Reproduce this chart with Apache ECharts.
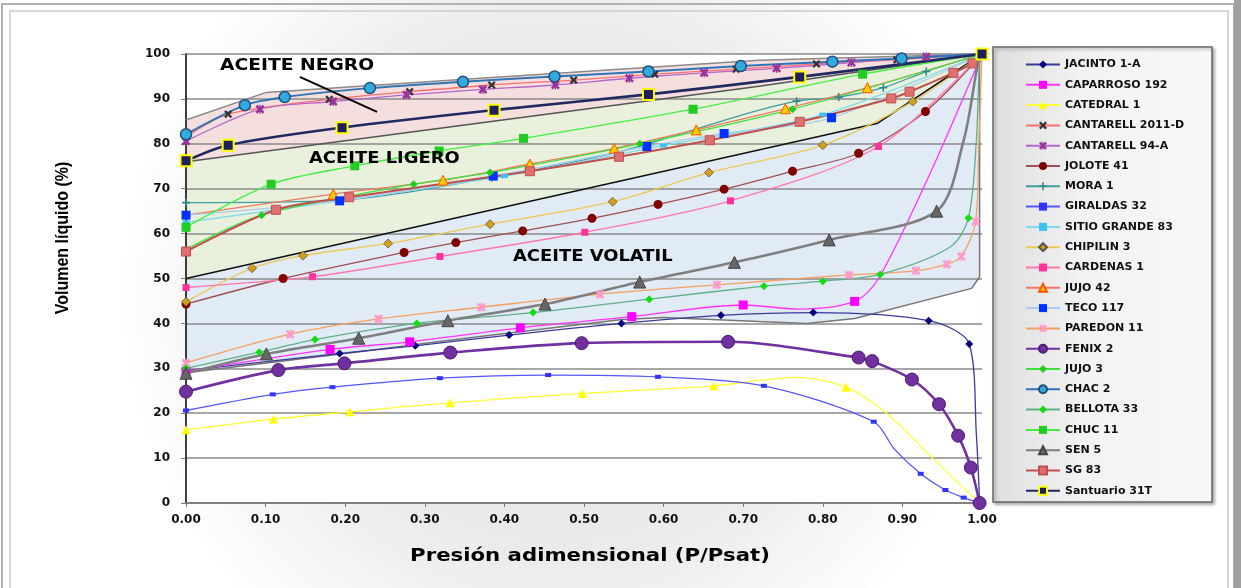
<!DOCTYPE html>
<html>
<head>
<meta charset="utf-8">
<script src="https://cdn.jsdelivr.net/npm/echarts@6/dist/echarts.min.js"></script>
<style>
html, body { margin: 0; padding: 0; background: #fff; }
#chart { width: 1241px; height: 588px; }
</style>
</head>
<body>
<div id="chart"></div>
<script>
// ejes
var xTicks = ['0.00', '0.10', '0.20', '0.30', '0.40', '0.50', '0.60', '0.70', '0.80', '0.90', '1.00'];
var yTicks = [0, 10, 20, 30, 40, 50, 60, 70, 80, 90, 100];

// curvas [P/Psat, % liquido] ; tercer valor 0 = punto sin marcador
var jacinto = [[0, 29.5], [0.193, 33.3], [0.288, 35.0], [0.406, 37.4], [0.547, 40.0], [0.672, 41.8], [0.788, 42.4], [0.933, 40.6], [0.984, 35.4], [0.993, 15, 0], [0.997, 0, 0]];
var caparroso = [[0, 29.3], [0.181, 34.2], [0.281, 35.9], [0.42, 39.0], [0.56, 41.5], [0.70, 44.1], [0.77, 43.2, 0], [0.84, 44.9], [0.87, 50, 0], [0.935, 73.5, 0], [1, 100, 0]];
var catedral = [[0, 16.3], [0.11, 18.7], [0.206, 20.3], [0.332, 22.3], [0.498, 24.4], [0.663, 26.1], [0.767, 28.0, 0], [0.829, 25.8], [0.88, 20, 0], [0.94, 9.6, 0], [0.997, 0, 0]];
var cantarell2011 = [[0, 81.5], [0.053, 86.6], [0.18, 89.9], [0.281, 91.6], [0.384, 93.1], [0.487, 94.2], [0.589, 95.5], [0.691, 96.6], [0.792, 97.8], [0.893, 98.7], [1, 100]];
var cantarell94 = [[0, 80.6], [0.093, 87.7], [0.185, 89.4], [0.277, 90.9], [0.373, 92.1], [0.464, 93.1], [0.557, 94.6], [0.651, 95.8], [0.742, 96.8], [0.836, 98.1], [0.93, 99.4], [1, 100]];
var jolote = [[0, 44.3], [0.122, 50.0], [0.274, 55.8], [0.339, 58.0], [0.423, 60.6], [0.51, 63.4], [0.593, 66.5], [0.676, 69.9], [0.762, 73.9], [0.845, 77.9], [0.929, 87.2], [1, 100]];
var mora = [[0, 66.9], [0.19, 67.4, 0], [0.384, 72.5], [0.55, 78.5, 0], [0.70, 86.5, 0], [0.767, 89.5], [0.82, 90.4], [0.876, 92.5], [0.93, 96.1], [1, 100, 0]];
var giraldas = [[0, 20.6], [0.109, 24.2], [0.184, 25.8], [0.319, 27.8], [0.455, 28.5], [0.593, 28.1], [0.726, 26.1], [0.864, 18.1], [0.89, 12, 0], [0.923, 6.5], [0.954, 2.9], [0.977, 1.2], [0.997, 0, 0]];
var sitioGrande = [[0, 62.5], [0.2, 67.5], [0.4, 72.8], [0.6, 79.6], [0.8, 86.5], [1, 100, 0]];
var chipilin = [[0, 44.8], [0.083, 52.3], [0.147, 55.1], [0.254, 57.8], [0.382, 62.1], [0.536, 67.1], [0.657, 73.6], [0.80, 79.7], [0.913, 89.4], [1, 100]];
var cardenas = [[0, 48.0], [0.159, 50.4], [0.319, 54.9], [0.501, 60.3], [0.684, 67.3], [0.87, 79.4], [1, 100, 0]];
var jujo42 = [[0, 64.1, 0], [0.185, 68.8], [0.323, 71.9], [0.432, 75.5], [0.538, 79.0], [0.641, 83.1], [0.753, 87.8], [0.856, 92.5], [1, 100]];
var teco = [[0, 64.1], [0.193, 67.3], [0.386, 72.8], [0.579, 79.4], [0.676, 82.3], [0.811, 85.8], [1, 100, 0]];
var paredon = [[0, 31.2], [0.131, 37.6], [0.242, 41.0], [0.371, 43.6], [0.52, 46.5], [0.667, 48.6], [0.833, 50.8], [0.917, 51.7], [0.956, 53.2], [0.974, 54.9], [0.992, 62.7], [0.996, 80, 0], [1, 100, 0]];
var fenix = [[0, 24.8], [0.116, 29.6], [0.199, 31.1], [0.332, 33.5], [0.497, 35.6], [0.681, 35.9], [0.845, 32.4], [0.862, 31.6], [0.912, 27.5], [0.946, 22.0], [0.970, 15.0], [0.986, 7.9], [0.997, 0]];
var jujo3 = [[0, 56.5, 0], [0.095, 64.1], [0.286, 71.0], [0.382, 73.6], [0.57, 80.0], [0.762, 87.7], [1, 100, 0]];
var chac = [[0, 82.1], [0.074, 88.6], [0.124, 90.4], [0.231, 92.4], [0.348, 93.8], [0.463, 95.0], [0.581, 96.1], [0.697, 97.3], [0.812, 98.3], [0.899, 99.0], [1, 100]];
var bellota = [[0, 30.0], [0.092, 33.6], [0.162, 36.4], [0.29, 40.0], [0.436, 42.4], [0.582, 45.4], [0.726, 48.3], [0.80, 49.4], [0.872, 50.9], [0.96, 57, 0], [0.983, 63.5], [0.993, 81, 0], [0.997, 99, 0], [1, 100, 0]];
var chuc = [[0, 61.4], [0.107, 71.0], [0.212, 75.1], [0.318, 78.4], [0.424, 81.2], [0.637, 87.7], [0.85, 95.5], [1, 100, 0]];
var sen5 = [[0, 28.9], [0.101, 33.2], [0.217, 36.7], [0.329, 40.6], [0.451, 44.3], [0.57, 49.2], [0.689, 53.6], [0.808, 58.6], [0.943, 65.0], [0.977, 80.8, 0], [0.995, 98, 0], [1, 100, 0]];
var sg83 = [[0, 56.0], [0.113, 65.3], [0.205, 68.1], [0.432, 73.9], [0.544, 77.1], [0.658, 80.8], [0.771, 84.9], [0.886, 90.1], [0.909, 91.6], [0.964, 95.8], [0.988, 97.9], [1, 100, 0]];
var santuario = [[0, 76.2], [0.053, 79.7], [0.196, 83.6], [0.387, 87.5], [0.581, 91.0], [0.771, 94.9], [1, 100]];

// zonas
var negroTop = [[0, 85.3], [0.1, 91.4], [0.35, 94.4], [0.72, 98.6], [1, 100]];
var negroBottom = [[0, 76], [0.35, 84.2], [0.72, 92.8], [1, 100]];
var ligeroBottom = [[0, 50], [0.869, 84.6], [1, 100]];
var volatilBottom = [[0, 29], [0.2, 33.3], [0.344, 36.5], [0.545, 40.8], [0.6, 41.3], [0.72, 40.4], [0.78, 40], [0.84, 41.1], [0.987, 47.8], [0.997, 50.4], [0.997, 98], [1, 100]];
var arrowFrom = [0.143, 94.9];
var arrowTo = [0.24, 87.1];

var xMark = 'path://M2,0L5,3L8,0L10,2L7,5L10,8L8,10L5,7L2,10L0,8L3,5L0,2Z';
var plusMark = 'path://M4,0L6,0L6,4L10,4L10,6L6,6L6,10L4,10L4,6L0,6L0,4L4,4Z';
var starMark = 'path://M2,0L5,3L8,0L10,2L7,5L10,8L8,10L5,7L2,10L0,8L3,5L0,2Z M4.3,0L5.7,0L5.7,10L4.3,10Z';

var wells = [
  { name: 'JACINTO 1-A', pts: jacinto, line: '#3a3a9a', w: 1.3, symbol: 'diamond', size: 8, fill: '#000080' },
  { name: 'CAPARROSO 192', pts: caparroso, line: '#ff33ff', w: 1.3, symbol: 'rect', size: 9, fill: '#ff00ff' },
  { name: 'CATEDRAL 1', pts: catedral, line: '#ffff33', w: 1.3, symbol: 'triangle', size: 9, fill: '#ffff00' },
  { name: 'CANTARELL 2011-D', pts: cantarell2011, line: '#ff6f6f', w: 1.3, symbol: xMark, size: 8, fill: '#333333' },
  { name: 'CANTARELL 94-A', pts: cantarell94, line: '#b366cc', w: 1.3, symbol: starMark, size: 9, fill: '#993399' },
  { name: 'JOLOTE 41', pts: jolote, line: '#a05050', w: 1.3, symbol: 'circle', size: 9, fill: '#800000' },
  { name: 'MORA 1', pts: mora, line: '#3e9e9e', w: 1.3, symbol: plusMark, size: 8, fill: '#2e8b8b' },
  { name: 'GIRALDAS 32', pts: giraldas, line: '#5555ff', w: 1.3, symbol: 'rect', size: [6, 4], fill: '#3333ff' },
  { name: 'SITIO GRANDE 83', pts: sitioGrande, line: '#80d8f0', w: 1.3, symbol: 'rect', size: [7, 4], fill: '#40c0f0' },
  { name: 'CHIPILIN 3', pts: chipilin, line: '#f0c850', w: 1.3, symbol: 'diamond', size: 9, fill: '#d4a017', border: '#555', bw: 0.8 },
  { name: 'CARDENAS 1', pts: cardenas, line: '#ff77aa', w: 1.3, symbol: 'rect', size: 7, fill: '#ff3399' },
  { name: 'JUJO 42', pts: jujo42, line: '#f07860', w: 1.3, symbol: 'triangle', size: 10, fill: '#ffcc00', border: '#ff5500', bw: 1 },
  { name: 'TECO 117', pts: teco, line: '#a8ccf0', w: 1.3, symbol: 'rect', size: 9, fill: '#0033ff' },
  { name: 'PAREDON 11', pts: paredon, line: '#f5a060', w: 1.3, symbol: starMark, size: 9, fill: '#ff99cc' },
  { name: 'FENIX 2', pts: fenix, line: '#7030a0', w: 2.6, symbol: 'circle', size: 13, fill: '#7030a0', border: '#4b1c70', bw: 1 },
  { name: 'JUJO 3', pts: jujo3, line: '#40e040', w: 1.3, symbol: 'diamond', size: 8, fill: '#22cc22' },
  { name: 'CHAC 2', pts: chac, line: '#2e75b6', w: 2, symbol: 'circle', size: 11, fill: '#33aadd', border: '#1f4e79', bw: 1.5 },
  { name: 'BELLOTA 33', pts: bellota, line: '#5faf8a', w: 1.3, symbol: 'diamond', size: 8, fill: '#11dd11' },
  { name: 'CHUC 11', pts: chuc, line: '#44ee44', w: 1.3, symbol: 'rect', size: 9, fill: '#22cc22' },
  { name: 'SEN 5', pts: sen5, line: '#7f7f7f', w: 2.6, symbol: 'triangle', size: 12, fill: '#666666', border: '#444', bw: 1 },
  { name: 'SG 83', pts: sg83, line: '#c0504d', w: 2, symbol: 'rect', size: 9, fill: '#e07070', border: '#c0504d', bw: 1 },
  { name: 'Santuario 31T', pts: santuario, line: '#1f2a60', w: 2.6, symbol: 'rect', size: 11, fill: '#1f1f5f', border: '#ffff00', bw: 2 }
];

function toData(pts) {
  return pts.map(function (p) {
    if (p.length > 2 && p[2] === 0) return { value: [p[0], p[1]], symbol: 'none' };
    return [p[0], p[1]];
  });
}

function zone(top, bottom, color) {
  return {
    type: 'custom', z: 1, silent: true, data: [[0, 0]], encode: { x: 0, y: 1 },
    renderItem: function (params, api) {
      var pts = top.concat(bottom.slice().reverse()).map(function (p) { return api.coord(p); });
      return { type: 'polygon', shape: { points: pts }, style: { fill: color } };
    }
  };
}

function edge(pts, color, width, extra) {
  var s = {
    type: 'line', data: pts, symbol: 'none', silent: true, z: 3, clip: false,
    lineStyle: { color: color, width: width }
  };
  return Object.assign(s, extra || {});
}

var series = [
  zone(negroTop, negroBottom, '#f5dede'),
  zone(negroBottom, ligeroBottom, '#e9f1dc'),
  zone(ligeroBottom, volatilBottom, '#e0ebf6'),
  edge(negroTop, '#8a8a8a', 1.5, {
    markLine: {
      silent: true, symbol: ['none', 'arrow'], symbolSize: [0, 11], label: { show: false },
      lineStyle: { color: '#000', width: 2, type: 'solid' },
      data: [[{ coord: arrowFrom }, { coord: arrowTo }]]
    }
  }),
  edge(negroBottom, '#555', 1.5),
  edge(ligeroBottom, '#111', 1.5),
  edge(volatilBottom, '#777', 1.5)
];

wells.forEach(function (w) {
  series.push({
    name: w.name, type: 'line', data: toData(w.pts), smooth: 0.3, clip: false, z: 4,
    symbol: w.symbol, symbolSize: w.size,
    lineStyle: { color: w.line, width: w.w },
    itemStyle: { color: w.fill, borderColor: w.border || w.fill, borderWidth: w.bw || 0 },
    emphasis: { disabled: true }
  });
});

var chart = echarts.init(document.getElementById('chart'));
chart.setOption({
  animation: false,
  backgroundColor: {
    type: 'radial', x: 0.45, y: 0.5, r: 0.75,
    colorStops: [{ offset: 0, color: '#e0e0e0' }, { offset: 0.6, color: '#ebebeb' }, { offset: 1, color: '#ffffff' }]
  },
  grid: { left: 186, top: 54, width: 796, height: 449, show: true, backgroundColor: '#fff', borderWidth: 0 },
  legend: {
    data: wells.map(function (w) { return w.name; }),
    orient: 'vertical', left: 1020, top: 54, z: 6,
    itemWidth: 34, itemHeight: 10, itemGap: 9.3, selectedMode: false,
    textStyle: { fontFamily: 'DejaVu Sans', fontWeight: 'bold', fontSize: 11, color: '#111', lineHeight: 10 }
  },
  xAxis: {
    type: 'value', min: 0, max: 1, interval: 0.1, z: 2,
    axisLine: { show: true, lineStyle: { color: '#777', width: 1.5 } },
    axisTick: { show: true, length: 4, lineStyle: { color: '#777' } },
    splitLine: { show: false },
    axisLabel: {
      margin: 11, fontFamily: 'DejaVu Sans', fontWeight: 'bold', fontSize: 12, color: '#111',
      formatter: function (v) { return xTicks[Math.round(v * 10)]; }
    }
  },
  yAxis: {
    type: 'value', min: 0, max: 100, interval: 10, z: 2,
    axisLine: { show: true, lineStyle: { color: '#000', width: 1.5 } },
    axisTick: { show: true, length: 5, lineStyle: { color: '#777' } },
    splitLine: { show: true, lineStyle: { color: '#8a8a8a', width: 1.5 } },
    axisLabel: {
      margin: 16, fontFamily: 'DejaVu Sans', fontWeight: 'bold', fontSize: 12, color: '#111',
      formatter: function (v) { return String(yTicks[Math.round(v / 10)]); }
    }
  },
  graphic: [
    { type: 'rect', z: 0, shape: { x: 2, y: 4, width: 1232, height: 590 }, style: { fill: 'none', stroke: '#b0b0b0', lineWidth: 2 } },
    { type: 'rect', z: 0, shape: { x: 10, y: 11, width: 1218, height: 590 }, style: { fill: 'none', stroke: '#cccccc', lineWidth: 1.5 } },
    { type: 'rect', z: 0, shape: { x: 1234, y: 0, width: 7, height: 588 }, style: { fill: '#a0a0a0' } },
    {
      type: 'rect', z: 1, shape: { x: 993, y: 47, width: 219, height: 455 },
      style: {
        fill: { type: 'linear', x: 0, y: 0, x2: 1, y2: 0, colorStops: [{ offset: 0, color: '#dedede' }, { offset: 0.4, color: '#f2f2f2' }, { offset: 1, color: '#f8f8f8' }] },
        stroke: '#666', lineWidth: 1.5, shadowBlur: 3, shadowOffsetX: 2, shadowOffsetY: 2, shadowColor: 'rgba(0,0,0,0.3)'
      }
    },
    { type: 'text', z: 5, x: 220, y: 66, scaleX: 1.17, style: { text: 'ACEITE NEGRO', font: 'bold 16px "DejaVu Sans"', fill: '#000', align: 'left', verticalAlign: 'middle' } },
    { type: 'text', z: 5, x: 309, y: 159, scaleX: 1.12, style: { text: 'ACEITE LIGERO', font: 'bold 16px "DejaVu Sans"', fill: '#000', align: 'left', verticalAlign: 'middle' } },
    { type: 'text', z: 5, x: 513, y: 257, scaleX: 1.12, style: { text: 'ACEITE VOLATIL', font: 'bold 16px "DejaVu Sans"', fill: '#000', align: 'left', verticalAlign: 'middle' } },
    { type: 'text', z: 5, x: 63, y: 238, rotation: Math.PI / 2, scaleY: 1.2, style: { text: 'Volumen líquido (%)', font: 'bold 16px "Liberation Sans"', fill: '#000', align: 'center', verticalAlign: 'middle' } },
    { type: 'text', z: 5, x: 590, y: 557, scaleX: 1.25, style: { text: 'Presión adimensional (P/Psat)', font: 'bold 17px "DejaVu Sans"', fill: '#000', align: 'center', verticalAlign: 'middle' } }
  ],
  series: series
});
</script>
</body>
</html>
